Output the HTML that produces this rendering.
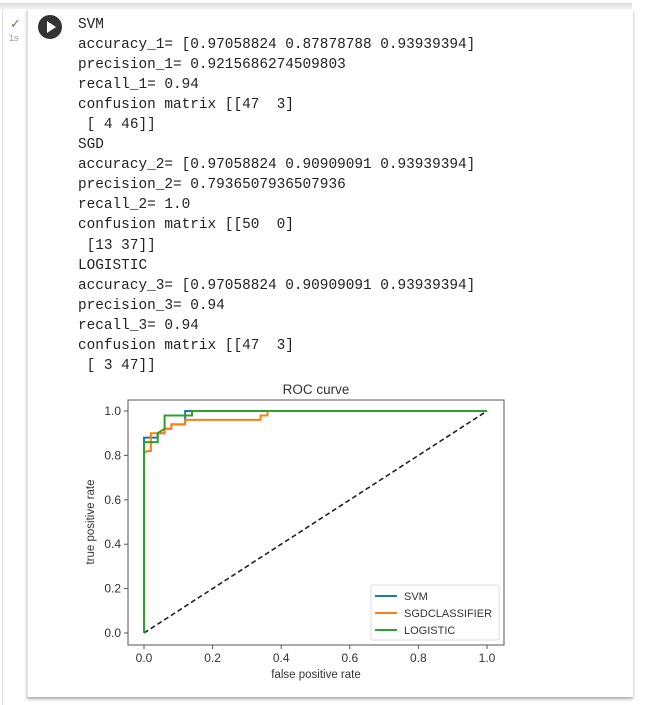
<!DOCTYPE html>
<html><head><meta charset="utf-8"><style>
body{margin:0;width:672px;height:705px;background:#fff;position:relative;overflow:hidden;font-family:"Liberation Sans",sans-serif}
.topbar{position:absolute;left:0;top:3px;width:632px;height:6px;background:linear-gradient(#ddd,#f4f4f4)}
.leftline{position:absolute;left:2px;top:9px;width:1px;height:696px;background:#ddd}
.card{position:absolute;left:27px;top:9px;width:605px;height:688px;border-left:1px solid #e0e0e0;box-shadow:0 2px 3px rgba(0,0,0,.35);background:#fff}
.out{position:absolute;left:78px;top:15px;margin:0;font-family:"Liberation Mono",monospace;font-size:14.4px;line-height:20.05px;color:#222;white-space:pre}
.run{position:absolute;left:38px;top:15px;width:24px;height:24px;border-radius:50%;background:#333}
.run:after{content:"";position:absolute;left:9px;top:6px;border-left:9px solid #fff;border-top:6px solid transparent;border-bottom:6px solid transparent}
.check{position:absolute;left:10px;top:16px;color:#3a9d3a;font-size:13px}
.time{position:absolute;left:9px;top:33px;color:#999;font-size:9px}
</style></head><body>
<div class="topbar"></div>
<div class="leftline"></div>
<div class="card"></div>
<div class="check">✓</div>
<div class="time">1s</div>
<div class="run"></div>
<pre class="out">SVM
accuracy_1= [0.97058824 0.87878788 0.93939394]
precision_1= 0.9215686274509803
recall_1= 0.94
confusion matrix [[47  3]
 [ 4 46]]
SGD
accuracy_2= [0.97058824 0.90909091 0.93939394]
precision_2= 0.7936507936507936
recall_2= 1.0
confusion matrix [[50  0]
 [13 37]]
LOGISTIC
accuracy_3= [0.97058824 0.90909091 0.93939394]
precision_3= 0.94
recall_3= 0.94
confusion matrix [[47  3]
 [ 3 47]]</pre>
<svg id="chart" width="672" height="705" style="position:absolute;left:0;top:0"></svg>
<script>
const svmX=[0,0,0.04,0.04,0.06,0.06,0.08,0.08,0.12,0.12,1];
const svmY=[0,0.88,0.88,0.90,0.90,0.92,0.92,0.94,0.94,1.0,1];
const sgdX=[0,0,0.01,0.02,0.02,0.04,0.06,0.06,0.08,0.08,0.12,0.12,0.34,0.34,0.36,0.36,1];
const sgdY=[0,0.81,0.82,0.82,0.90,0.90,0.90,0.92,0.92,0.94,0.94,0.96,0.96,0.98,0.98,1,1];
const logX=[0,0,0.04,0.04,0.06,0.06,0.14,0.14,1];
const logY=[0,0.86,0.86,0.90,0.92,0.98,0.98,1,1];
const ticks=[0,0.2,0.4,0.6,0.8,1.0];
const tickLabels=["0.0","0.2","0.4","0.6","0.8","1.0"];
const NS="http://www.w3.org/2000/svg";
const svg=document.getElementById('chart');
const L=128,R=504,T=400,B=645;
const sx=v=>144+v*(487-144), sy=v=>633-v*(633-411);
function mk(t,a,p){const e=document.createElementNS(NS,t);for(const k in a)e.setAttribute(k,a[k]);(p||svg).appendChild(e);return e;}
const frame=mk('rect',{x:L,y:T,width:R-L,height:B-T,fill:'none',stroke:'#555','stroke-width':1});


const title=mk('text',{x:(L+R)/2,y:394,'text-anchor':'middle','font-size':13.5,fill:'#333','font-family':'Liberation Sans'});
title.textContent='ROC curve';


ticks.forEach((t,i)=>{
 mk('line',{x1:sx(t),x2:sx(t),y1:B,y2:B+4,stroke:'#555'});
 const xl=mk('text',{x:sx(t),y:B+17,'text-anchor':'middle','font-size':12,fill:'#333'});
 xl.textContent=tickLabels[i];
 
 
 mk('line',{x1:L-4,x2:L,y1:sy(t),y2:sy(t),stroke:'#555'});
 const yl=mk('text',{x:L-7,y:sy(t)+4,'text-anchor':'end','font-size':12,fill:'#333'});
 yl.textContent=tickLabels[i];
 
 
});
const xt=mk('text',{x:(L+R)/2,y:678,'text-anchor':'middle','font-size':11.5,fill:'#333'});
xt.textContent='false positive rate';


const yt=mk('text',{x:0,y:0,'text-anchor':'middle','font-size':11.5,fill:'#333',transform:'translate(94,522) rotate(-90)'});
yt.textContent='true positive rate';


const diag=mk('line',{x1:sx(0),y1:sy(0),x2:sx(1),y2:sy(1),stroke:'#222','stroke-width':1.6,'stroke-dasharray':'5,3'});


function series(xs,ys,color,name){
 const p=mk('polyline',{points:xs.map((x,i)=>sx(x)+','+sy(ys[i])).join(' '),fill:'none',stroke:color,'stroke-width':2});
 
 
}
series(svmX,svmY,'#1f77b4','svm-curve');
series(sgdX,sgdY,'#ff7f0e','sgd-curve');
series(logX,logY,'#2ca02c','logistic-curve');
const lg=mk('g',{});


mk('rect',{x:371,y:585,width:128,height:55,fill:'#fff',stroke:'#ddd',rx:2},lg);
[['SVM','#1f77b4'],['SGDCLASSIFIER','#ff7f0e'],['LOGISTIC','#2ca02c']].forEach((d,i)=>{
 const y=596+i*17;
 mk('line',{x1:375,x2:397,y1:y,y2:y,stroke:d[1],'stroke-width':2},lg);
 const t=mk('text',{x:404,y:y+4,'font-size':11,fill:'#333'},lg);
 t.textContent=d[0];
 
 
});
</script>
</body></html>
